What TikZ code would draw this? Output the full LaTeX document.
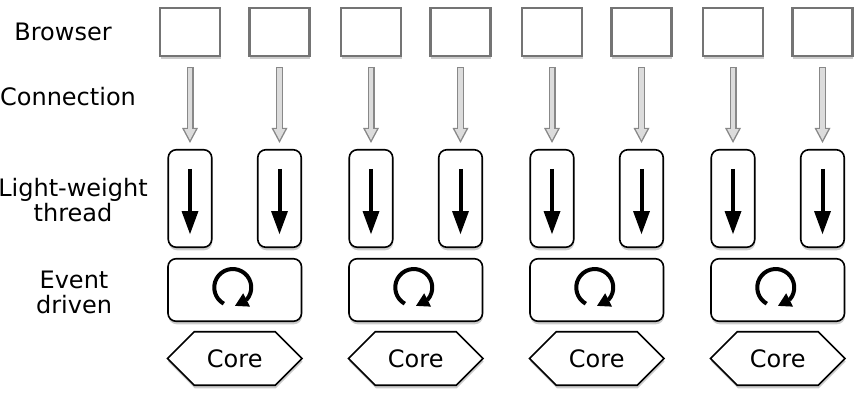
\documentclass[tikz,border=0pt]{standalone}
\usepackage{fontspec}
\setmainfont{DejaVu Sans}
\usetikzlibrary{arrows.meta, bending, shadows, shapes.symbols, positioning}

\definecolor{boxgray}{HTML}{747474}
\definecolor{arrowline}{HTML}{888888}
\definecolor{arrowfill}{HTML}{DCDCDC}

\begin{document}
\begin{tikzpicture}[
    x=1pt, y=1pt,
    font=\fontsize{24}{25}\selectfont,
    boxshadow/.style={drop shadow={shadow xshift=0.5pt, shadow yshift=-3pt, opacity=.4}},
    browser/.style={rectangle, draw=boxgray, line width=2.2pt, fill=white,
        minimum width=60pt, minimum height=48pt, boxshadow},
    lwt/.style={rectangle, rounded corners=8pt, draw, line width=1.6pt, fill=white,
        minimum width=43.5pt, minimum height=97.5pt, boxshadow},
    event/.style={rectangle, rounded corners=8pt, draw, line width=1.6pt, fill=white,
        minimum width=133.5pt, minimum height=62.5pt, boxshadow},
    core/.style={signal, signal to=east and west, draw, line width=1.6pt, fill=white,
        minimum width=134.5pt, minimum height=53.5pt, inner sep=0pt, boxshadow},
    rowlabel/.style={align=center, inner sep=0pt},
    connout/.style={line width=7pt, draw=arrowline, shorten <=10pt, shorten >=6pt,
        -{Triangle[width=16pt, length=15pt, line width=0pt]}},
    connin/.style={line width=4.4pt, draw=arrowfill, shorten <=11.3pt, shorten >=9pt,
        -{Triangle[width=11.5pt, length=10.8pt, line width=0pt]}},
    thread/.style={line width=4pt, -{Triangle[width=17pt, length=23pt, line width=0pt]}},
    turn/.style={line width=4pt, -{Triangle[width=15pt, length=13pt, line width=0pt]}}
]

\useasboundingbox (0,0) rectangle (864,400);

% Row labels
\node[rowlabel] (lbrowser) at (63,368) {Browser};
\node[rowlabel] (lconn) at (68,303) {Connection};
\node[rowlabel] (lthread) at (73,199.5) {Light-weight\\thread};
\node[rowlabel] (levent) at (74,107.5) {Event\\driven};

% Four groups: two browsers, two threads, one loop, one core
\foreach \g in {0,...,3} {
    \pgfmathsetmacro{\gx}{190+181*\g}
    \foreach \p in {0,1} {
        \node[browser] (b\g\p) at (\gx+89.5*\p,368) {};
        \node[lwt] (t\g\p) at (\gx+89.5*\p,201.5) {};
        % Connection arrow
        \draw[connout] (b\g\p) -- (t\g\p);
        \draw[connin] (b\g\p) -- (t\g\p);
        % Thread arrow
        \draw[thread] ([yshift=-20pt]t\g\p.north) -- ([yshift=14pt]t\g\p.south);
    }
    \node[event] (e\g) at (\gx+44.75,110) {};
    \draw[turn] ([shift={(-2pt,2.5pt)}]e\g.center) ++(241:18.5pt)
        arc[start angle=241, end angle=-83, radius=18.5pt];
    \node[core] (c\g) at (\gx+44.75,41.5) {Core};
}

\end{tikzpicture}
\end{document}
